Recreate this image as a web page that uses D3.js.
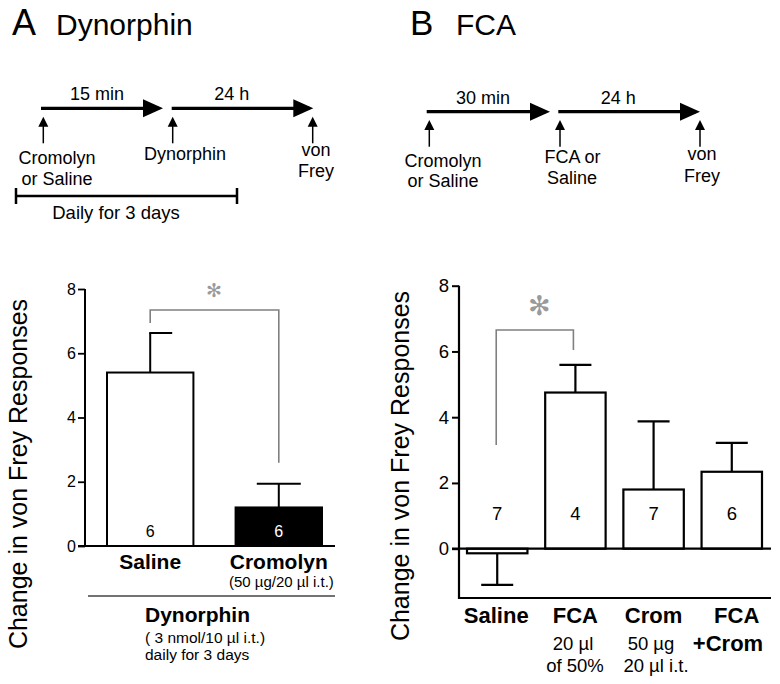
<!DOCTYPE html>
<html><head><meta charset="utf-8">
<script src="https://cdn.jsdelivr.net/npm/d3@7/dist/d3.min.js"></script>
<style>
body{margin:0;background:#fff;}
svg{display:block;}
text{font-family:"Liberation Sans",Arial,sans-serif;fill:#000;}
</style></head>
<body>
<script>
// ---- Data ----
const catsA = ["Saline", "Cromolyn"];
const meansA = [5.4, 1.2];
const semA = [1.23, 0.74];
const nA = [6, 6];
const ticksA = [0, 2, 4, 6, 8];

const catsB = ["Saline", "FCA", "Crom", "FCA+Crom"];
const meansB = [-0.14, 4.75, 1.8, 2.34];
const semB = [0.96, 0.84, 2.07, 0.88];
const nB = [7, 4, 7, 6];
const ticksB = [0, 2, 4, 6, 8];

const yLabel = "Change in von Frey Responses";

const W = 780, H = 684;
const svg = d3.select("body").append("svg").attr("width", W).attr("height", H);

// ---------- helpers ----------
function txt(g, x, y, s, size, opts = {}) {
  const t = g.append("text").attr("x", x).attr("y", y).text(s)
    .attr("font-size", size).attr("text-anchor", opts.anchor || "middle");
  if (opts.bold) t.attr("font-weight", "bold");
  if (opts.fill) t.style("fill", opts.fill);
  return t;
}
function bigArrow(g, x1, x2, y) {
  g.append("line").attr("x1", x1).attr("x2", x2 - 4).attr("y1", y).attr("y2", y)
    .attr("stroke", "#000").attr("stroke-width", 3.2);
  g.append("path").attr("d", `M${x2 - 20},${y - 9} L${x2},${y} L${x2 - 20},${y + 9} Z`).attr("fill", "#000");
}
function upArrow(g, x, y1, y2) {
  g.append("line").attr("x1", x).attr("x2", x).attr("y1", y2).attr("y2", y1 + 4)
    .attr("stroke", "#000").attr("stroke-width", 1.5);
  g.append("path").attr("d", `M${x - 5},${y1 + 10} L${x},${y1} L${x + 5},${y1 + 10} Z`).attr("fill", "#000");
}

// ---------- Titles & timelines ----------
const gTop = svg.append("g");
txt(gTop, 12, 35, "A", 36, {anchor: "start"});
txt(gTop, 56, 35, "Dynorphin", 30, {anchor: "start"});
txt(gTop, 410, 35, "B", 35, {anchor: "start"});
txt(gTop, 456, 35, "FCA", 30, {anchor: "start"});

// A timeline
bigArrow(gTop, 41, 163, 108.3);
bigArrow(gTop, 171.7, 313.3, 108.3);
txt(gTop, 97, 100, "15 min", 18);
txt(gTop, 231.7, 100, "24 h", 18);
upArrow(gTop, 43.3, 116.7, 143.3);
upArrow(gTop, 172.7, 116.7, 143.3);
upArrow(gTop, 312.7, 116.7, 143.3);
txt(gTop, 57, 163.5, "Cromolyn", 18);
txt(gTop, 57, 184.5, "or Saline", 18);
txt(gTop, 185, 159.5, "Dynorphin", 18);
txt(gTop, 316, 156, "von", 18);
txt(gTop, 316, 177, "Frey", 18);
gTop.append("path").attr("d", "M16,196 H237 M16,188 V204 M237,188 V204")
  .attr("stroke", "#000").attr("stroke-width", 2.5).attr("fill", "none");
txt(gTop, 116, 218.5, "Daily for 3 days", 18.5);

// B timeline
bigArrow(gTop, 426.7, 550, 111.7);
bigArrow(gTop, 558.3, 700, 111.7);
txt(gTop, 483, 103.5, "30 min", 18);
txt(gTop, 618.3, 103.5, "24 h", 18);
upArrow(gTop, 429.3, 120, 146.7);
upArrow(gTop, 560, 120, 146.7);
upArrow(gTop, 700, 120, 146.7);
txt(gTop, 443, 166.7, "Cromolyn", 18);
txt(gTop, 443, 186.7, "or Saline", 18);
txt(gTop, 572.5, 163.3, "FCA or", 18);
txt(gTop, 572, 184, "Saline", 18);
txt(gTop, 702, 160, "von", 18);
txt(gTop, 702, 181.7, "Frey", 18);

// ---------- Panel A chart ----------
const gA = svg.append("g");
const yA = d3.scaleLinear().domain([0, 8]).range([546, 289]);
const xA = d3.scaleBand().domain(catsA).range([107, 322]).paddingInner(0.328).paddingOuter(0);
const axA = gA.append("g").attr("transform", "translate(85,0)")
  .call(d3.axisLeft(yA).tickValues(ticksA).tickSize(7).tickPadding(2).tickFormat(d3.format("d")));
axA.select(".domain").remove();
axA.selectAll(".tick line").attr("stroke", "#000").attr("stroke-width", 1.8);
axA.selectAll(".tick text").attr("font-size", 16).attr("font-family", "Liberation Sans, Arial, sans-serif").style("fill", "#000");
gA.append("line").attr("x1", 85).attr("x2", 85).attr("y1", yA(8)).attr("y2", yA(0) + 1).attr("stroke", "#000").attr("stroke-width", 2);
// error bars (behind bars)
catsA.forEach((c, i) => {
  const cx = xA(c) + xA.bandwidth() / 2;
  const yTop = yA(meansA[i] + semA[i]);
  gA.append("line").attr("x1", cx).attr("x2", cx).attr("y1", yA(meansA[i])).attr("y2", yTop)
    .attr("stroke", "#000").attr("stroke-width", 2);
  const l = i === 0 ? cx - 1 : cx - 22, r = cx + 22;
  gA.append("line").attr("x1", l).attr("x2", r).attr("y1", yTop).attr("y2", yTop)
    .attr("stroke", "#000").attr("stroke-width", 2);
});
gA.selectAll("rect.bar").data(catsA).join("rect").attr("class", "bar")
  .attr("x", d => xA(d)).attr("width", xA.bandwidth())
  .attr("y", (d, i) => yA(meansA[i])).attr("height", (d, i) => yA(0) - yA(meansA[i]))
  .attr("fill", (d, i) => i === 0 ? "#fff" : "#000").attr("stroke", "#000").attr("stroke-width", 2);
catsA.forEach((c, i) => {
  txt(gA, xA(c) + xA.bandwidth() / 2, 536.7, String(nA[i]), 16, {fill: i === 0 ? "#000" : "#fff"});
});
gA.append("line").attr("x1", 78).attr("x2", 335).attr("y1", yA(0)).attr("y2", yA(0)).attr("stroke", "#000").attr("stroke-width", 2);
// significance bracket
{
  const c0 = xA(catsA[0]) + xA.bandwidth() / 2, c1 = xA(catsA[1]) + xA.bandwidth() / 2;
  gA.append("path").attr("d", `M${c0},323 V310 H${c1} V462.7`).attr("fill", "none")
    .attr("stroke", "#808080").attr("stroke-width", 1.6);
  txt(gA, 214, 290, "✻", 19, {fill: "#9a9a9a"}).attr("font-family", "DejaVu Sans").attr("dominant-baseline", "central");
}
// x labels
txt(gA, xA(catsA[0]) + xA.bandwidth() / 2, 569, "Saline", 21, {bold: true});
txt(gA, xA(catsA[1]) + xA.bandwidth() / 2, 569, "Cromolyn", 21, {bold: true});
txt(gA, 229, 587, "(50 µg/20 µl i.t.)", 15, {anchor: "start"});
gA.append("line").attr("x1", 88).attr("x2", 335).attr("y1", 596).attr("y2", 596).attr("stroke", "#444").attr("stroke-width", 1.5);
txt(gA, 145, 621.7, "Dynorphin", 21, {bold: true, anchor: "start"});
txt(gA, 145, 643, "( 3 nmol/10 µl i.t.)", 15.5, {anchor: "start"});
txt(gA, 145, 660, "daily for 3 days", 15.5, {anchor: "start"});
txt(gA, 0, 0, yLabel, 25).attr("transform", "translate(27,474) rotate(-90)");

// ---------- Panel B chart ----------
const gB = svg.append("g");
const yB = d3.scaleLinear().domain([-1.5, 8]).range([598, 285.7]);
const xB = d3.scaleBand().domain(catsB).range([467, 762]).paddingInner(0.227).paddingOuter(0);
const axB = gB.append("g").attr("transform", "translate(459,0)")
  .call(d3.axisLeft(yB).tickValues(ticksB).tickSize(7).tickPadding(3).tickFormat(d3.format("d")));
axB.select(".domain").remove();
axB.selectAll(".tick line").attr("stroke", "#000").attr("stroke-width", 2);
axB.selectAll(".tick text").attr("font-size", 18.5).attr("font-family", "Liberation Sans, Arial, sans-serif").style("fill", "#000");
gB.append("path").attr("d", `M459,${yB(8)} V${yB(-1.5)} H771`).attr("fill", "none").attr("stroke", "#000").attr("stroke-width", 2.2);
catsB.forEach((c, i) => {
  const cx = xB(c) + xB.bandwidth() / 2;
  const sgn = meansB[i] < 0 ? -1 : 1;
  const yEnd = yB(meansB[i] + sgn * semB[i]);
  gB.append("line").attr("x1", cx).attr("x2", cx).attr("y1", yB(meansB[i])).attr("y2", yEnd)
    .attr("stroke", "#000").attr("stroke-width", 2.2);
  gB.append("line").attr("x1", cx - 16).attr("x2", cx + 16).attr("y1", yEnd).attr("y2", yEnd)
    .attr("stroke", "#000").attr("stroke-width", 2.2);
});
gB.selectAll("rect.bar").data(catsB).join("rect").attr("class", "bar")
  .attr("x", d => xB(d)).attr("width", xB.bandwidth())
  .attr("y", (d, i) => Math.min(yB(meansB[i]), yB(0)))
  .attr("height", (d, i) => Math.abs(yB(0) - yB(meansB[i])))
  .attr("fill", "#fff").attr("stroke", "#000").attr("stroke-width", 2.2);
gB.append("line").attr("x1", 452).attr("x2", 771).attr("y1", yB(0)).attr("y2", yB(0)).attr("stroke", "#000").attr("stroke-width", 2.2);
catsB.forEach((c, i) => {
  txt(gB, xB(c) + xB.bandwidth() / 2, 519.5, String(nB[i]), 18.5);
});
{
  const c0 = xB(catsB[0]) + xB.bandwidth() / 2, c1 = xB(catsB[1]) + xB.bandwidth() / 2;
  gB.append("path").attr("d", `M${c0 - 1},445 V330 H${c1 - 2} V350`).attr("fill", "none")
    .attr("stroke", "#808080").attr("stroke-width", 1.6);
  txt(gB, 539, 306, "✻", 27, {fill: "#9a9a9a"}).attr("font-family", "DejaVu Sans").attr("dominant-baseline", "central");
}
// x labels
const cB = i => xB(catsB[i]) + xB.bandwidth() / 2;
txt(gB, cB(0) - 1, 622.7, "Saline", 22, {bold: true});
txt(gB, cB(1), 622.7, "FCA", 22, {bold: true});
txt(gB, cB(2), 622.7, "Crom", 22, {bold: true});
txt(gB, 736.7, 622.7, "FCA", 22, {bold: true});
txt(gB, 728, 650.7, "+Crom", 22, {bold: true});
txt(gB, 573, 650, "20 µl", 18.5);
txt(gB, 575, 671.7, "of 50%", 18.5);
txt(gB, 651, 650, "50 µg", 18.5);
txt(gB, 656, 671.7, "20 µl i.t.", 18.5);
txt(gB, 0, 0, yLabel, 25).attr("transform", "translate(409,466) rotate(-90)");
</script>
</body></html>
